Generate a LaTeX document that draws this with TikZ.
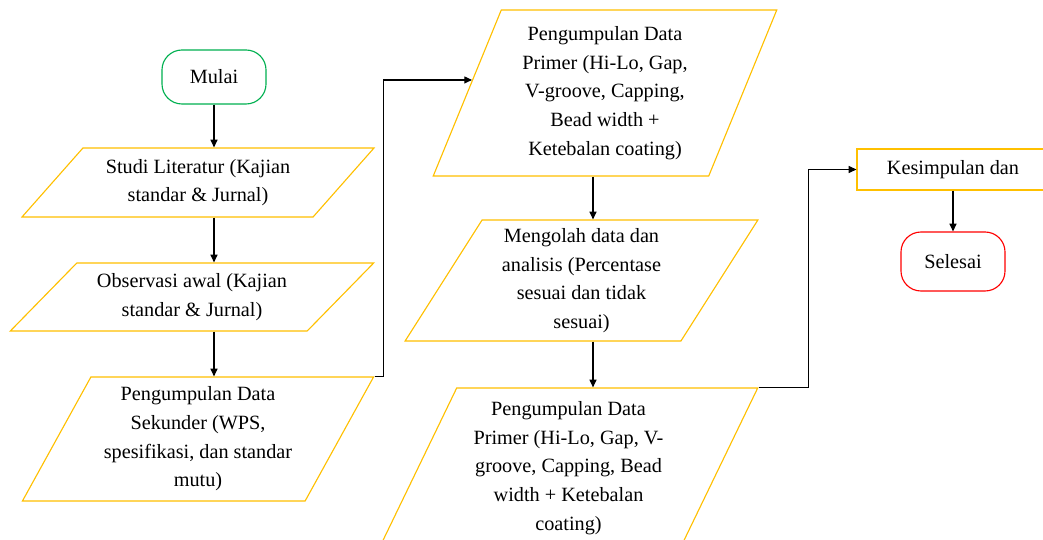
\documentclass[tikz,border=0pt]{standalone}
\usepackage{fontspec}
\setmainfont{Liberation Serif}
\usepackage{tikz}
\usetikzlibrary{positioning,calc,shapes.geometric,arrows.meta}
\definecolor{KuningProses}{RGB}{255,192,0}
\definecolor{HijauMulai}{RGB}{0,176,80}
\definecolor{MerahSelesai}{RGB}{255,0,0}
\tikzset{
    teks/.style={font=\fontsize{14.4}{20.4}\selectfont, align=center, inner sep=2pt},
    terminal/.style={rectangle, rounded corners=0.5cm, draw=#1, line width=0.8pt, fill=white, teks, minimum width=2.6cm},
    datain/.style 2 args={trapezium, trapezium stretches=true, trapezium left angle=#1, trapezium right angle=#2,
        draw=KuningProses, line width=0.8pt, fill=white, teks},
    proses/.style={rectangle, draw=KuningProses, line width=0.8pt, fill=white, teks},
    alur/.style={-{Triangle[length=5.5pt,width=5pt]}, line width=0.8pt, draw=black}
}

\begin{document}
\begin{tikzpicture}[x=0.025cm, y=0.025cm]
    \useasboundingbox (0,0) rectangle (1043,539);

    % --- KOLOM KIRI ---
    \node[terminal=HijauMulai, minimum height=1.35cm] (mulai) at (214,462) {Mulai};
    \node[datain={46.3}{133.7}, minimum width=8.825cm, minimum height=1.725cm] (studi) at (198,356.5)
        {Studi Literatur (Kajian\\standar \& Jurnal)};
    \node[datain={43.0}{137.0}, minimum width=9.1cm, minimum height=1.7cm] (obs) at (192,242)
        {Observasi awal (Kajian\\standar \& Jurnal)};
    \node[datain={60.6}{119.4}, minimum width=8.8cm, minimum height=3.1cm] (sek) at (198,100)
        {Pengumpulan Data\\Sekunder (WPS,\\spesifikasi, dan standar\\mutu)};

    % --- KOLOM TENGAH ---
    \node[datain={68.0}{112.0}, minimum width=8.6cm, minimum height=4.15cm] (pri1) at (605,446)
        {Pengumpulan Data\\Primer (Hi-Lo, Gap,\\V-groove, Capping,\\Bead width +\\Ketebalan coating)};
    \node[datain={59.9}{120.1}, minimum width=8.825cm, minimum height=3.025cm] (olah) at (581.5,258.5)
        {Mengolah data dan\\analisis (Percentase\\sesuai dan tidak\\sesuai)};
    \node[datain={64.0}{116.0}, minimum width=9.475cm, minimum height=4cm] (pri2) at (568.5,71)
        {Pengumpulan Data\\Primer (Hi-Lo, Gap, V-\\groove, Capping, Bead\\width + Ketebalan\\coating)};

    % --- KOLOM KANAN ---
    \node[proses, minimum width=4.8cm, minimum height=1.025cm] (kes) at (953,369.5) {Kesimpulan dan};
    \node[terminal=MerahSelesai, minimum height=1.475cm] (selesai) at (953,277.5) {Selesai};

    % --- PANAH ---
    \coordinate (tengah) at (593,0);
    \coordinate (masuk) at ($(pri1.bottom left corner)!0.578!(pri1.top left corner)$);
    \draw[alur] (mulai.south) -- (mulai.south |- studi.north);
    \draw[alur] (mulai.south |- studi.south) -- (mulai.south |- obs.north);
    \draw[alur] (mulai.south |- obs.south) -- (mulai.south |- sek.north);
    \draw[alur] (sek.top right corner) -- ++(9,0) |- (masuk);
    \draw[alur] (pri1.south -| tengah) -- (olah.north -| tengah);
    \draw[alur] (olah.south -| tengah) -- (pri2.north -| tengah);
    \draw[alur] (pri2.top right corner) -- ++(50,0) |- (kes.west);
    \draw[alur] (kes.south) -- (selesai.north);
\end{tikzpicture}
\end{document}
